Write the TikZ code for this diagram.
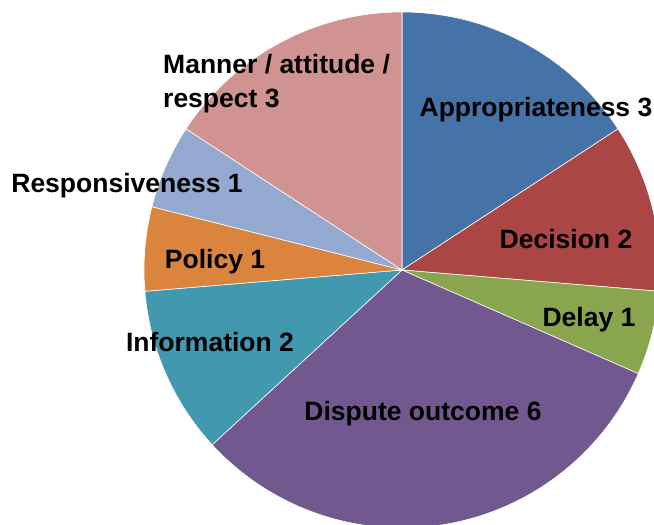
\documentclass[tikz,border=0pt]{standalone}
\usepackage{fontspec}
\setmainfont{Liberation Sans}
\definecolor{apprblue}{HTML}{4572A7}
\definecolor{decired}{HTML}{AA4643}
\definecolor{delaygreen}{HTML}{89A54E}
\definecolor{disppurple}{HTML}{71588F}
\definecolor{infoteal}{HTML}{4198AF}
\definecolor{policyorange}{HTML}{DB843D}
\definecolor{respblue}{HTML}{93A9CF}
\definecolor{mannerpink}{HTML}{D19392}
\begin{document}
\begin{tikzpicture}[x=1pt,y=1pt,
    slice/.style={draw=white,line width=0.6pt},
    lbl/.style={font=\fontsize{26.5}{34}\selectfont\bfseries,inner sep=0pt}]
                \clip (0,0) rectangle (654,525);
                %% slices, one count = 360/19 degrees
                \foreach \a/\b/\c in {90/33.158/apprblue,33.158/-4.737/decired,
                    -4.737/-23.684/delaygreen,-23.684/-137.368/disppurple,
                    -137.368/-175.263/infoteal,-175.263/-194.211/policyorange,
                    -194.211/-213.158/respblue,-213.158/-270/mannerpink} {
                    \filldraw[slice,fill=\c] (402,255) -- ++(\a:258) arc(\a:\b:258) -- cycle;
                }
                %% labels
                \node[lbl] (appr) at (536,415) {Appropriateness 3};
                \node[lbl] (deci) at (566,286) {Decision 2};
                \node[lbl] (delay) at (589,205) {Delay 1};
                \node[lbl] (disp) at (423,111) {Dispute outcome 6};
                \node[lbl] (info) at (210,183) {Information 2};
                \node[lbl] (policy) at (215,263) {Policy 1};
                \node[lbl] (resp) at (127,339) {Responsiveness 1};
                \node[lbl,anchor=west,align=left] (manner) at (163,441) {Manner / attitude /\\respect 3};
            \end{tikzpicture}
\end{document}
